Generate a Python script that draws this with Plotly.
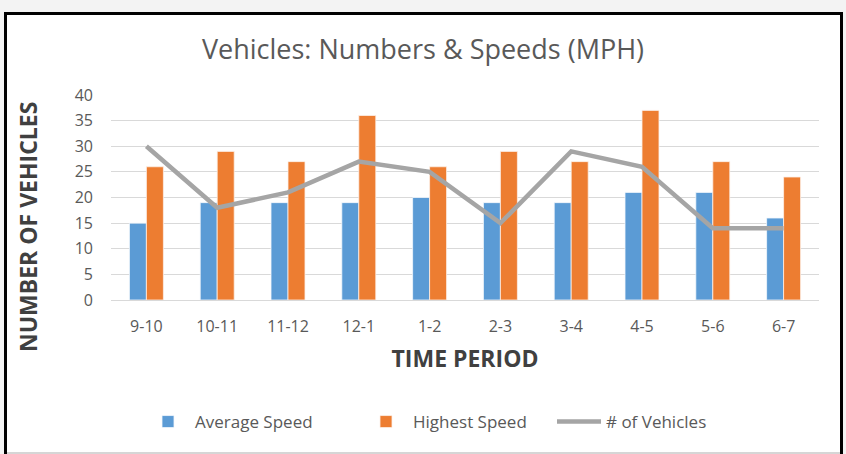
import plotly.graph_objects as go

periods = ["9-10", "10-11", "11-12", "12-1", "1-2", "2-3", "3-4", "4-5", "5-6", "6-7"]
avg_speed = [15, 19, 19, 19, 20, 19, 19, 21, 21, 16]
high_speed = [26, 29, 27, 36, 26, 29, 27, 37, 27, 24]
num_vehicles = [30, 18, 21, 27, 25, 15, 29, 26, 14, 14]
y_ticks = [0, 5, 10, 15, 20, 25, 30, 35, 40]

W, H = 846, 454
L, R, T, B = 111, 27, 95, 154
pw, ph = W - L - R, H - T - B

def px(x):
    return (x - L) / pw

def py(y):
    return (H - B - y) / ph

FONT = "Open Sans"
TXT = "#595959"

fig = go.Figure()
fig.add_trace(go.Bar(x=periods, y=avg_speed, name="Average Speed", legend="legend", showlegend=True,
                     marker=dict(color="#5b9bd5", line=dict(color="#f4f8fc", width=0.8))))
fig.add_trace(go.Bar(x=periods, y=high_speed, name="Highest Speed", legend="legend2", showlegend=True,
                     marker=dict(color="#ed7d31", line=dict(color="#fdf0e8", width=0.8))))
fig.add_trace(go.Scatter(x=periods, y=num_vehicles, name="# of Vehicles", mode="lines",
                         legend="legend3", showlegend=True, line=dict(color="#a5a5a5", width=4.5)))

shapes = [
    dict(type="rect", xref="paper", yref="paper", x0=px(5.5), x1=px(841.5), y0=py(460), y1=py(13.5),
         fillcolor="white", line=dict(color="black", width=3), layer="below"),
    dict(type="line", xref="paper", yref="paper", x0=px(7), x1=px(840), y0=py(453), y1=py(453),
         line=dict(color="#c8c8c8", width=1.5), layer="below"),
]

def leg(xpix):
    return dict(orientation="h", x=px(xpix), xanchor="left", y=py(422), yanchor="middle",
                font=dict(size=17, color=TXT), itemwidth=44,
                bgcolor="rgba(0,0,0,0)")

fig.update_layout(
    width=W, height=H,
    showlegend=True,
    margin=dict(l=L, r=R, t=T, b=B, pad=0, autoexpand=False),
    paper_bgcolor="#f3f3f3",
    plot_bgcolor="rgba(0,0,0,0)",
    barmode="group",
    bargap=0.52,
    bargroupgap=0,
    font=dict(family=FONT, color=TXT),
    title=dict(text="Vehicles: Numbers & Speeds (MPH)", xref="container", x=0.5, xanchor="center",
               yref="container", y=1 - 50 / H, yanchor="middle",
               font=dict(family=FONT, size=27, color=TXT)),
    xaxis=dict(
        type="category", automargin=False,
        showgrid=False, showline=True, linecolor="#d9d9d9", linewidth=1,
        tickfont=dict(size=16, color=TXT), ticks="", ticklabelstandoff=12,
        title=dict(text="<b>TIME PERIOD</b>", font=dict(size=23, color="#404040"), standoff=14),
    ),
    yaxis=dict(
        automargin=False,
        range=[0, 40], tickvals=y_ticks, showgrid=True, gridcolor="#d9d9d9", gridwidth=1,
        zeroline=False, showline=False, ticks="", ticklabelstandoff=17,
        tickfont=dict(size=16, color=TXT),
    ),
    annotations=[dict(text="<b>NUMBER OF VEHICLES</b>", xref="paper", yref="paper",
                      x=px(28), y=py(227), xanchor="center", yanchor="middle", textangle=-90,
                      showarrow=False, font=dict(size=23, color="#404040"))],
    legend=leg(141),
    legend2=leg(359),
    legend3=leg(552),
    shapes=shapes,
)

fig.write_html("out.html", config={"displayModeBar": False},
               post_script="document.body.style.margin='0';document.body.style.overflow='hidden';")
